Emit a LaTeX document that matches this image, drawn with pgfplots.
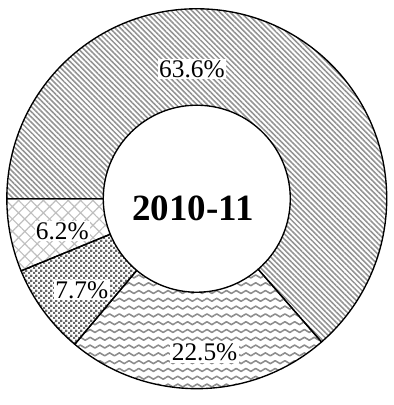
\documentclass[border=0pt]{standalone}
\usepackage{fontspec}
\setmainfont{Liberation Serif}
\usepackage{pgfplots}
\usepackage{pgfplotstable}
\pgfplotsset{compat=1.18}
\usetikzlibrary{patterns,patterns.meta}

\pgfdeclarepatternformonly{mywaves}{\pgfqpoint{-1pt}{-1pt}}{\pgfqpoint{11pt}{9pt}}{\pgfqpoint{10pt}{8pt}}{%
  \pgfsetlinewidth{1.6pt}%
  \pgfpathmoveto{\pgfqpoint{0pt}{4pt}}%
  \pgfpathcurveto{\pgfqpoint{1.7pt}{6pt}}{\pgfqpoint{3.3pt}{6pt}}{\pgfqpoint{5pt}{4pt}}%
  \pgfpathcurveto{\pgfqpoint{6.7pt}{2pt}}{\pgfqpoint{8.3pt}{2pt}}{\pgfqpoint{10pt}{4pt}}%
  \pgfusepath{stroke}%
}
\pgfdeclarepatternformonly{mychecker}{\pgfqpoint{0pt}{0pt}}{\pgfqpoint{4.8pt}{4.8pt}}{\pgfqpoint{4.8pt}{4.8pt}}{%
  \pgfpathrectangle{\pgfqpoint{0pt}{0pt}}{\pgfqpoint{2.4pt}{2.4pt}}%
  \pgfpathrectangle{\pgfqpoint{2.4pt}{2.4pt}}{\pgfqpoint{2.4pt}{2.4pt}}%
  \pgfusepath{fill}%
}

\tikzset{
  seg0/.style={pattern={Lines[angle=-45,distance=3.8pt,line width=1.6pt]}, pattern color=gray!85},
  seg1/.style={pattern=mywaves, pattern color=gray!90},
  seg2/.style={pattern=mychecker, pattern color=black!60},
  seg3/.style={pattern={Hatch[angle=45,distance=9pt,line width=1.2pt]}, pattern color=gray!50},
}

\pgfplotstableread{
value
63.6
22.5
7.7
6.2
}\piedata

\begin{document}
\begin{tikzpicture}
\begin{axis}[
  x=1pt, y=1pt,
  xmin=-202, xmax=202, ymin=-201, ymax=204,
  hide axis, clip=false,
]
\path (axis cs:-202,-201) rectangle (axis cs:202,204);
\xdef\angleacc{180}
\pgfplotstableforeachcolumnelement{value}\of\piedata\as\v{%
  \pgfmathsetmacro\aend{\angleacc - 3.6*\v}%
  \pgfmathsetmacro\xa{195*cos(\angleacc)}%
  \pgfmathsetmacro\ya{195*sin(\angleacc)}%
  \pgfmathsetmacro\xb{96*cos(\aend)}%
  \pgfmathsetmacro\yb{96*sin(\aend)}%
  \edef\tmp{\noexpand\draw[seg\pgfplotstablerow, line width=1.4pt, line join=round]
    (axis cs:\xa,\ya) arc[start angle=\angleacc, end angle=\aend, radius=195pt]
    -- (axis cs:\xb,\yb) arc[start angle=\aend, end angle=\angleacc, radius=96pt] -- cycle;}%
  \tmp
  \xdef\angleacc{\aend}%
}
\tikzset{lbl/.style={fill=white, inner sep=1.5pt, font=\fontsize{26}{26}\selectfont}}
\node[lbl] at (axis cs:-5,133) {63.6\%};
\node[lbl] at (axis cs:8,-158) {22.5\%};
\node[lbl] at (axis cs:-118,-94) {7.7\%};
\node[lbl] at (axis cs:-138,-33) {6.2\%};
\node[font=\fontsize{38}{38}\selectfont\bfseries] at (axis cs:-4,-10) {2010-11};
\end{axis}
\end{tikzpicture}
\end{document}
